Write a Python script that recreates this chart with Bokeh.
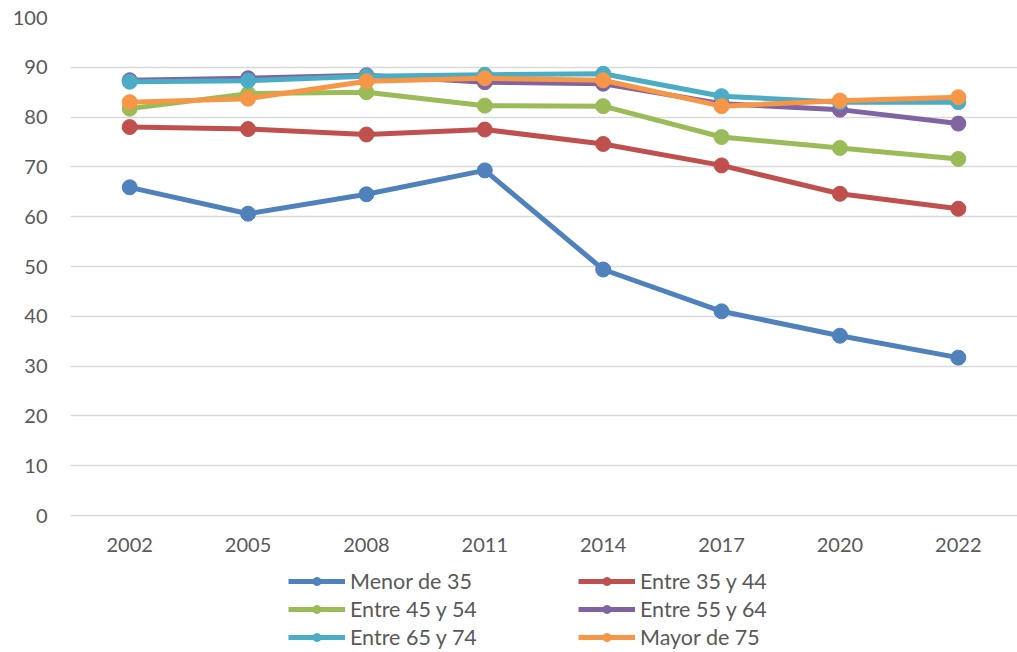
from bokeh.plotting import figure
from bokeh.models import Range1d, FactorRange, FixedTicker, Legend, LegendItem
from bokeh.embed import file_html
from bokeh.resources import INLINE

years = ["2002", "2005", "2008", "2011", "2014", "2017", "2020", "2022"]

menor_35 = [65.9, 60.6, 64.5, 69.3, 49.4, 41.0, 36.1, 31.7]
entre_35_44 = [78.0, 77.6, 76.5, 77.5, 74.6, 70.3, 64.6, 61.6]
entre_45_54 = [81.7, 84.7, 85.0, 82.3, 82.2, 76.0, 73.8, 71.6]
entre_55_64 = [87.4, 87.8, 88.4, 87.0, 86.7, 82.7, 81.5, 78.7]
entre_65_74 = [87.1, 87.3, 88.2, 88.5, 88.7, 84.2, 83.0, 83.0]
mayor_75 = [83.0, 83.7, 87.2, 87.8, 87.4, 82.2, 83.3, 84.0]

series_names = ["Menor de 35", "Entre 35 y 44", "Entre 45 y 54",
                "Entre 55 y 64", "Entre 65 y 74", "Mayor de 75"]
series_values = [menor_35, entre_35_44, entre_45_54, entre_55_64, entre_65_74, mayor_75]
colors = ["#4F81BD", "#C0504D", "#9BBB59", "#8064A2", "#4BACC6", "#F79646"]

FONT = "Lato"
TEXT = "#595959"

# frame spans y=17..652; 100 units over 498 px -> lower bound below 0 leaves room for legend
Y_LOW = 100 - 635 / 4.98

p = figure(x_range=FactorRange(factors=years, range_padding=0),
           y_range=Range1d(Y_LOW, 100),
           width=1017, height=652,
           min_border_left=70, min_border_right=0,
           min_border_top=17, min_border_bottom=0,
           output_backend="svg", toolbar_location=None)

p.outline_line_color = None
p.background_fill_color = "white"
p.border_fill_color = "white"

p.xgrid.grid_line_color = None
p.ygrid.grid_line_color = "#d9d9d9"
p.ygrid.grid_line_width = 1.5
p.yaxis.ticker = FixedTicker(ticks=list(range(0, 101, 10)))
p.xaxis.fixed_location = 0

for ax in (p.xaxis, p.yaxis):
    ax.axis_line_color = None
    ax.major_tick_line_color = None
    ax.minor_tick_line_color = None
    ax.major_tick_out = 0
    ax.major_tick_in = 0
    ax.major_label_text_font = FONT
    ax.major_label_text_font_size = "20px"
    ax.major_label_text_color = TEXT
p.yaxis.major_label_standoff = 23
p.xaxis.major_label_standoff = 22

items = []
for name, vals, col in zip(series_names, series_values, colors):
    r1 = p.line(years, vals, line_color=col, line_width=5)
    r2 = p.scatter(years, vals, size=15, fill_color=col, line_color=col)
    items.append(LegendItem(label=name, renderers=[r1, r2]))

# legend fills column by column: first column gets series 0, 2, 4
legend_items = items[0::2] + items[1::2]

legend = Legend(items=legend_items, ncols=2, location=(218, 1),
                glyph_width=57, glyph_height=20, label_standoff=5,
                label_width=228, label_height=28, spacing=0,
                padding=0, margin=0,
                border_line_color=None, background_fill_alpha=0,
                label_text_font=FONT, label_text_font_size="21.5px",
                label_text_color=TEXT)
p.add_layout(legend, "center")

open("out.html", "w").write(file_html(p, INLINE))
